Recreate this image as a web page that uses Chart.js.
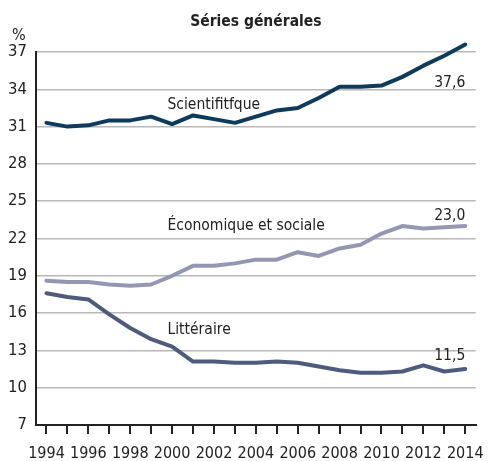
<!DOCTYPE html>
<html>
<head>
<meta charset="utf-8">
<script src="https://cdn.jsdelivr.net/npm/chart.js@4/dist/chart.umd.min.js"></script>
<style>
html,body{margin:0;padding:0;background:#fff;}
#wrap{width:494px;height:461px;position:relative;}
</style>
</head>
<body>
<div id="wrap"><canvas id="c" width="494" height="461"></canvas></div>
<script>
const years = ['1994','1995','1996','1997','1998','1999','2000','2001','2002','2003','2004','2005','2006','2007','2008','2009','2010','2011','2012','2013','2014'];
const scientifique = [31.3,31.0,31.1,31.5,31.5,31.8,31.2,31.9,31.6,31.3,31.8,32.3,32.5,33.3,34.2,34.2,34.3,35.0,35.9,36.7,37.6];
const economique = [18.6,18.5,18.5,18.3,18.2,18.3,19.0,19.8,19.8,20.0,20.3,20.3,20.9,20.6,21.2,21.5,22.4,23.0,22.8,22.9,23.0];
const litteraire = [17.6,17.3,17.1,15.9,14.8,13.9,13.3,12.1,12.1,12.0,12.0,12.1,12.0,11.7,11.4,11.2,11.2,11.3,11.8,11.3,11.5];
const seriesNames = ['Scientifitfque','Économique et sociale','Littéraire'];
const endLabels = ['37,6','23,0','11,5'];
const yTicks = [7,10,13,16,19,22,25,28,31,34,37];
const titleText = 'Séries générales';
const unitText = '%';

const FONT = '"Liberation Sans Narrow","DejaVu Sans Condensed","Liberation Sans",sans-serif';
const colors = ['#0e3a5c','#9497b1','#4e5b7d'];

const annot = {
  id:'annot',
  afterDatasetsDraw(chart){
    const ctx = chart.ctx, xs = chart.scales.x, ys = chart.scales.y;
    ctx.save();
    ctx.fillStyle = '#222';
    ctx.font = '16px ' + FONT;
    ctx.textBaseline = 'middle';
    // unit
    ctx.textAlign = 'left';
    ctx.fillText(unitText, 12, 36);
    // series names
    ctx.font = '15.5px ' + FONT;
    const nameX = xs.getPixelForValue(0) + 121;
    ctx.fillText(seriesNames[0], nameX, 105);
    ctx.fillText(seriesNames[1], nameX, 226);
    ctx.fillText(seriesNames[2], nameX, 330);
    // end labels
    ctx.textAlign = 'right';
    const last = years.length - 1;
    const ex = xs.getPixelForValue(last);
    ctx.fillText(endLabels[0], ex, ys.getPixelForValue(scientifique[last]) + 38);
    ctx.fillText(endLabels[1], ex, ys.getPixelForValue(economique[last]) - 10);
    ctx.fillText(endLabels[2], ex, ys.getPixelForValue(litteraire[last]) - 13);
    ctx.restore();
  }
};

const mk = (label, data, color) => ({
  label, data, borderColor: color, backgroundColor: color,
  borderWidth: 4, pointRadius: 0, tension: 0, clip: false,
  borderJoinStyle: 'round', borderCapStyle: 'round'
});

new Chart(document.getElementById('c'), {
  type: 'line',
  data: {
    labels: years,
    datasets: [
      mk(seriesNames[0], scientifique, colors[0]),
      mk(seriesNames[1], economique, colors[1]),
      mk(seriesNames[2], litteraire, colors[2])
    ]
  },
  options: {
    responsive: false,
    animation: false,
    layout: { padding: { left: 0, right: 10, top: 0, bottom: 0 } },
    plugins: {
      legend: { display: false },
      tooltip: { enabled: false },
      title: {
        display: true, text: titleText, color: '#222', fullSize: false,
        font: { family: FONT, size: 15.5, weight: 'bold', lineHeight: 1.2 },
        padding: { top: 13, bottom: 20.4 }
      }
    },
    scales: {
      x: {
        type: 'category',
        offset: true,
        afterFit: s => { s.height = 36; },
        grid: { display: true, offset: false, drawOnChartArea: false, drawTicks: true, tickLength: 9, color: '#222', lineWidth: 2 },
        border: { display: true, color: '#222', width: 2 },
        ticks: {
          autoSkip: false, maxRotation: 0, minRotation: 0, padding: 10, color: '#222',
          font: { family: FONT, size: 16 },
          callback: function(v, i){ return i % 2 === 0 ? years[i] : ''; }
        }
      },
      y: {
        min: 7, max: 37,
        afterFit: s => { s.width = 36; },
        afterBuildTicks: s => { s.ticks = yTicks.map(v => ({ value: v })); },
        grid: { color: '#b8b8b8', lineWidth: 1.5, drawTicks: false },
        border: { display: true, color: '#222', width: 2 },
        ticks: { padding: 9, color: '#222', font: { family: FONT, size: 16.5 } }
      }
    }
  },
  plugins: [annot]
});
</script>
</body>
</html>
